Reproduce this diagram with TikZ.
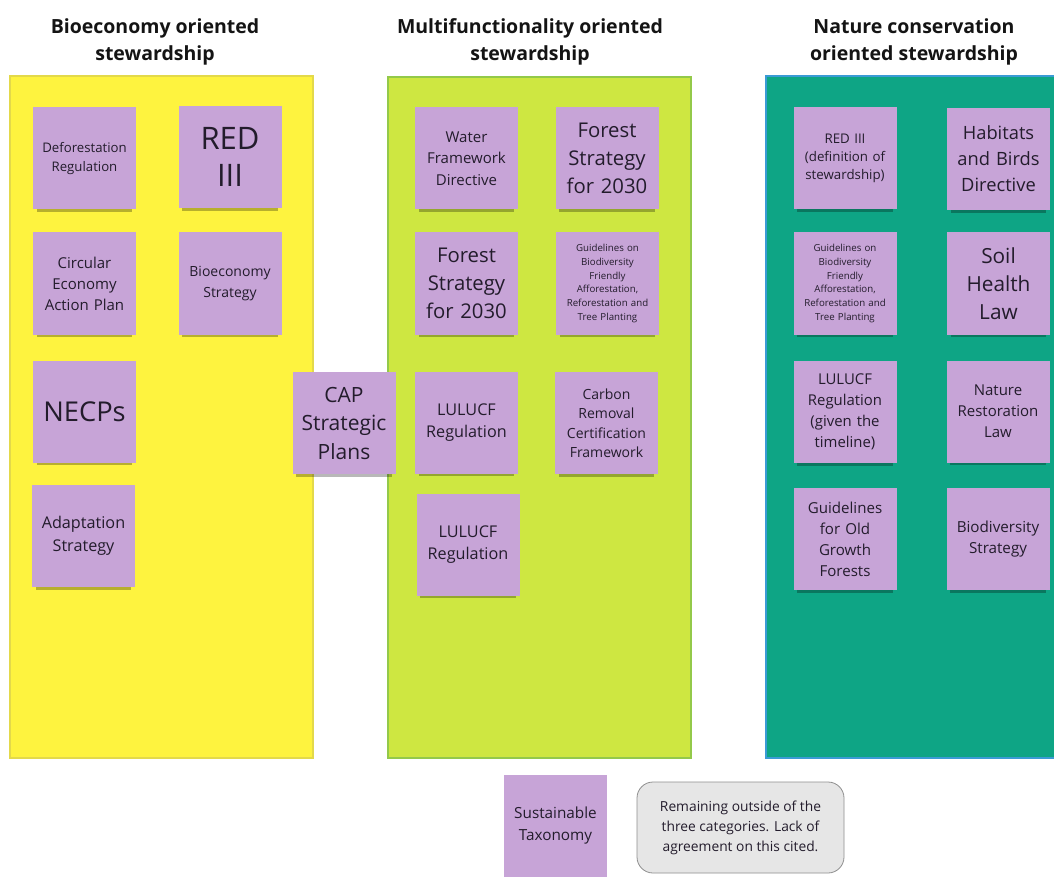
\documentclass[tikz,border=0pt]{standalone}
\usepackage{fontspec}
\setmainfont{Open Sans}
\usetikzlibrary{shadows}
\definecolor{ycol}{HTML}{FEF33F}
\definecolor{ybord}{HTML}{E3D94A}
\definecolor{gcol}{HTML}{CEE741}
\definecolor{gbord}{HTML}{93C94A}
\definecolor{tcol}{HTML}{0EA585}
\definecolor{tbord}{HTML}{3A9BD5}
\definecolor{notecol}{HTML}{C7A4D7}
\definecolor{notetext}{HTML}{231C2C}
\definecolor{greyfill}{HTML}{E6E6E6}
\definecolor{greybord}{HTML}{8F8F8F}
\tikzset{
  column/.style={line width=1.2pt},
  note/.style={rectangle, fill=notecol, minimum width=103pt, minimum height=102pt,
    inner sep=1pt, align=center, text=notetext, text width=101pt,
    drop shadow={shadow xshift=0pt, shadow yshift=-7pt, shadow scale=0.93, fill=black, opacity=0.28}},
  header/.style={align=center, text=black!92, font=\bfseries\fontsize{19.5}{27}\selectfont},
}
\begin{document}
\begin{tikzpicture}[x=1pt,y=-1pt]
\useasboundingbox (0,0) rectangle (1054,877);
\fill[white] (0,0) rectangle (1054,877);
% columns
\draw[column, fill=ycol, draw=ybord] (10,76) rectangle (313,758);
\draw[column, fill=gcol, draw=gbord] (388,77) rectangle (691,758);
\draw[column, fill=tcol, draw=tbord] (766,76) rectangle (1056,758);
% headers
\node[header] (h1) at (155,42) {Bioeconomy oriented\\stewardship};
\node[header] (h2) at (530,42) {Multifunctionality oriented\\stewardship};
\node[header] (h3) at (914,42) {Nature conservation\\oriented stewardship};
% Bioeconomy column
\node[note, font=\fontsize{13.2}{18.5}\selectfont] (defreg) at (84.5,158.5) {Deforestation\\Regulation};
\node[note, font=\fontsize{31}{37}\selectfont] (red3) at (230,157) {RED\\III};
\node[note, font=\fontsize{15}{21}\selectfont] (circ) at (84.5,283.5) {Circular\\Economy\\Action Plan};
\node[note, font=\fontsize{14}{21}\selectfont] (bioec) at (230,283.5) {Bioeconomy\\Strategy};
\node[note, font=\fontsize{27.3}{36}\selectfont] (necps) at (84.5,411.5) {NECPs};
\node[note, font=\fontsize{16.2}{22.5}\selectfont] (adapt) at (83.5,536) {Adaptation\\Strategy};
\node[note, font=\fontsize{21}{28.5}\selectfont] (cap) at (344,423) {CAP\\Strategic\\Plans};
% Multifunctionality column
\node[note, font=\fontsize{15}{21.5}\selectfont] (water) at (466.5,158.5) {Water\\Framework\\Directive};
\node[note, font=\fontsize{20.3}{28}\selectfont] (forest1) at (607,158) {Forest\\Strategy\\for 2030};
\node[note, font=\fontsize{20.3}{28}\selectfont] (forest2) at (466.5,283.5) {Forest\\Strategy\\for 2030};
\node[note, font=\fontsize{9.7}{13.7}\selectfont] (guideG) at (607.5,283.5) {Guidelines on\\Biodiversity\\Friendly\\Afforestation,\\Reforestation and\\Tree Planting};
\node[note, font=\fontsize{16.2}{22}\selectfont] (lulucf1) at (466.5,422.5) {LULUCF\\Regulation\\[4pt]};
\node[note, font=\fontsize{14}{19.5}\selectfont] (carbon) at (606.5,423) {Carbon\\Removal\\Certification\\Framework};
\node[note, font=\fontsize{16.2}{22}\selectfont] (lulucf2) at (468,544.5) {LULUCF\\Regulation\\[4pt]};
% Nature conservation column
\node[note, font=\fontsize{13.3}{18}\selectfont] (red3def) at (845,158.5) {RED III\\(definition of\\stewardship)};
\node[note, font=\fontsize{18.3}{26}\selectfont] (habitats) at (998.5,159) {Habitats\\and Birds\\Directive};
\node[note, font=\fontsize{9.7}{13.7}\selectfont] (guideT) at (845,283.5) {Guidelines on\\Biodiversity\\Friendly\\Afforestation,\\Reforestation and\\Tree Planting};
\node[note, font=\fontsize{20.8}{28}\selectfont] (soil) at (998.5,283.5) {Soil\\Health\\Law};
\node[note, font=\fontsize{14.9}{21}\selectfont] (lulucfT) at (845,412) {LULUCF\\Regulation\\(given the\\timeline)};
\node[note, font=\fontsize{15}{21}\selectfont] (nature) at (998,411.5) {Nature\\Restoration\\Law};
\node[note, font=\fontsize{15.1}{21}\selectfont] (oldgrowth) at (845,539) {Guidelines\\for Old\\Growth\\Forests};
\node[note, font=\fontsize{15.2}{21}\selectfont] (biodiv) at (998,539) {Biodiversity\\Strategy};
% bottom
\node[note, font=\fontsize{15.3}{21.5}\selectfont] (tax) at (555.5,825.5) {Sustainable\\Taxonomy\\[6pt]};
\node[rectangle, rounded corners=16pt, fill=greyfill, draw=greybord, line width=0.8pt,
  minimum width=207pt, minimum height=91pt, align=center, text=notetext,
  font=\fontsize{13.8}{20}\selectfont] (grey) at (740.5,827.5)
  {Remaining outside of the\\three categories. Lack of\\agreement on this cited.};
\end{tikzpicture}
\end{document}
